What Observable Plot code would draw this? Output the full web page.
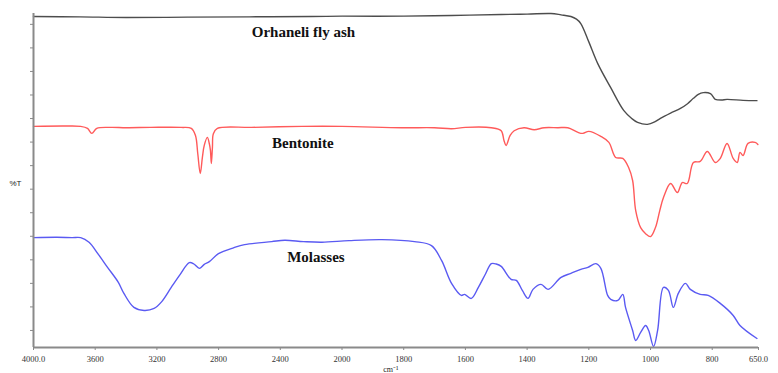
<!DOCTYPE html>
<html><head><meta charset="utf-8">
<script src="https://cdn.jsdelivr.net/npm/d3@7"></script>
<script src="https://cdn.jsdelivr.net/npm/@observablehq/plot@0.6"></script>
<style>body{margin:0;background:#fff} #chart svg{display:block}</style>
</head><body><div id="chart"></div>
<script>
// Series names and colours
const seriesNames = ["Orhaneli fly ash", "Bentonite", "Molasses"];
const seriesColors = ["#4d4d4d", "#ff5a5a", "#5a5af2"];

// Orhaneli fly ash: wavenumber (cm-1) and %T
const flyAshWn = [4000,3700,3400,3000,2600,2200,2000,1800,1645,1484,1400,1323,1290,1258,1240,1226,1200,1171,1129,1087,1060,1042,1010,985,968,935,903,880,861,845,829,806,795,790,770,752,700,655];
const flyAshT  = [99.1,99.0,98.8,98.9,99.0,99.1,99.2,99.2,99.4,99.7,99.8,100,99.6,99.1,98.3,97.0,91.5,85.0,77.8,71.0,68.5,67.4,66.8,67.6,68.6,70.2,71.6,73.0,74.6,75.8,76.3,76.0,74.8,74.3,74.1,74.3,74.0,73.9];

// Bentonite
const bentWn = [4000,3800,3694,3650,3622,3590,3500,3400,3240,3042,2977,2950,2935,2919,2905,2893,2873,2860,2853,2847,2840,2834,2808,2586,2260,2000,1806,1700,1645,1600,1516,1484,1475,1468,1455,1442,1410,1377,1345,1300,1268,1235,1219,1200,1161,1135,1113,1090,1071,1058,1048,1032,1015,1000,984,970,958,935,913,897,881,861,839,816,790,774,752,732,719,710,700,684,661,652];
const bentT  = [66.2,66.3,66.2,65.6,64.1,65.6,65.9,65.8,65.9,65.9,65.6,63.5,58.0,52.1,57.0,60.5,62.9,61.0,59.0,55.1,60.0,64.0,65.6,65.9,66.2,66.2,65.8,65.8,65.5,65.9,65.8,64.9,62.0,60.5,63.5,64.9,65.8,65.2,65.8,65.8,65.8,64.4,64.1,64.7,63.2,61.4,56.9,56.6,53.9,50.0,41.0,35.9,34.0,33.2,35.9,41.0,44.9,49.1,46.4,49.4,49.1,55.4,55.7,58.7,55.4,56.6,61.1,56.6,55.4,58.4,57.5,61.1,61.4,60.8];

// Molasses
const molWn = [4000,3850,3750,3694,3640,3583,3520,3450,3414,3349,3283,3218,3173,3107,3050,2990,2960,2925,2893,2860,2801,2700,2632,2456,2371,2250,2130,1977,1871,1765,1710,1677,1645,1613,1603,1581,1558,1535,1516,1500,1484,1452,1435,1415,1397,1381,1355,1332,1290,1258,1226,1203,1177,1161,1139,1129,1106,1090,1081,1058,1048,1032,1016,1006,990,977,958,942,926,910,887,871,839,813,774,732,710,655];
const molT  = [32.9,33.0,32.9,32.9,31.5,28.1,24.0,19.5,16.2,12.0,11.1,11.7,13.5,18.0,21.8,25.4,25.0,23.7,24.9,25.7,28.1,29.9,30.8,31.7,32.1,31.7,31.5,32.0,32.3,31.7,30.5,26.0,19.2,15.6,15.9,14.7,18.0,22.0,25.1,25.0,24.3,20.4,20.1,17.0,14.7,17.4,18.9,17.4,21.0,22.2,23.4,24.0,25.1,23.7,15.6,14.4,14.1,15.9,12.0,5.1,2.1,4.5,6.6,5.1,0.3,5.1,18.0,17.1,12.0,16.2,19.2,17.4,15.9,15.6,13.2,9.6,6.6,2.7];

// Axis ticks
const xTicks = [4000,3600,3200,2800,2400,2000,1800,1600,1400,1200,1000,800,650];
const xTickLabels = ["4000.0","3600","3200","2800","2400","2000","1800","1600","1400","1200","1000","800","650.0"];
const yTicks = [5.1,12.15,19.2,26.25,33.3,40.35,47.4,54.45,61.5,68.55,75.6,82.65,89.7,96.75];

// Curve labels anchored in data coordinates
const labelWn = [2250, 2254, 2169];
const labelT = [94.3, 61.1, 26.9];

// The instrument's axis: below 2000 cm-1 the scale is expanded twofold.
const axisPos = d3.scaleLinear().domain([4000, 2000, 650]).range([0, 2000, 4700]);

const rows = [];
[[flyAshWn, flyAshT], [bentWn, bentT], [molWn, molT]].forEach(([w, t], s) => {
  w.forEach((v, i) => rows.push({series: seriesNames[s], wn: v, pos: axisPos(v), t: t[i]}));
});
const labels = seriesNames.map((n, i) => ({name: n, pos: axisPos(labelWn[i]), t: labelT[i]}));
const tickPos = xTicks.map(axisPos);

const chart = Plot.plot({
  width: 778,
  height: 373,
  marginTop: 13,
  marginBottom: 26,
  marginLeft: 33,
  marginRight: 20,
  style: {fontFamily: "'Liberation Serif', serif", fontSize: "8.5px", color: "#333", background: "#fff"},
  x: {domain: [0, 4700]},
  y: {domain: [0, 100]},
  color: {domain: seriesNames, range: seriesColors},
  marks: [
    Plot.line(rows, {x: "pos", y: "t", z: "series", stroke: "series", strokeWidth: 1.4, curve: "catmull-rom"}),
    Plot.ruleX([0], {y1: 0, y2: 100, stroke: "#8a8a8a", strokeWidth: 2}),
    Plot.ruleY([0], {stroke: "#8a8a8a", strokeWidth: 2}),
    Plot.axisX({ticks: tickPos, tickFormat: d => xTickLabels[tickPos.indexOf(d)], tickSize: 3, tickPadding: 5, label: null, stroke: "#8a8a8a"}),
    Plot.axisY({ticks: yTicks, tickFormat: () => "", tickSize: 3, label: null, stroke: "#8a8a8a"}),
    Plot.text(labels, {x: "pos", y: "t", text: "name", fontWeight: "bold", fontSize: 15, fill: "#111", fontFamily: "'Liberation Serif', serif"}),
    Plot.text(["%T"], {x: 0, y: 49.1, text: d => d, dx: -18, fontSize: 8, fill: "#222", fontFamily: "'Liberation Sans', sans-serif"}),
    Plot.text(["cm⁻¹"], {x: axisPos(1842), y: 0, text: d => d, dy: 22, fontSize: 8, fill: "#222"})
  ]
});
document.getElementById("chart").appendChild(chart);
</script>
</body></html>
